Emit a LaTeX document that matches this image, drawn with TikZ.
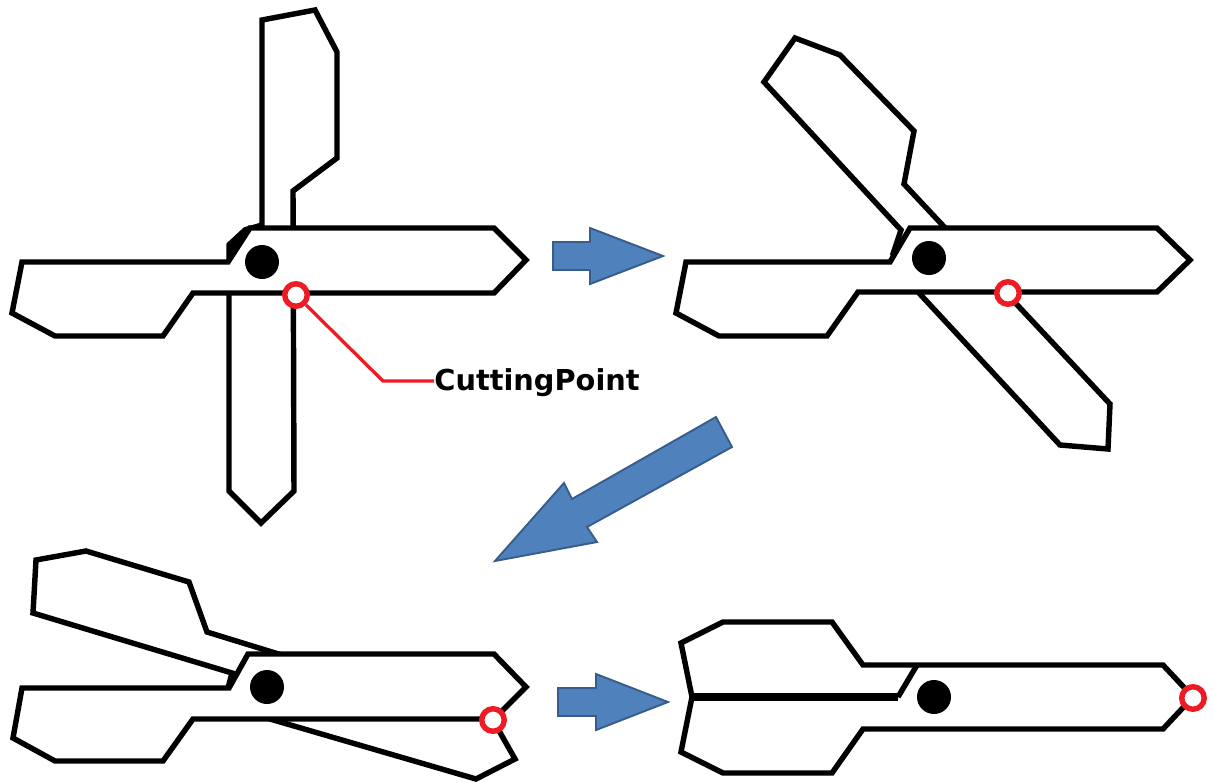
\documentclass[tikz,border=0pt]{standalone}
\usepackage{fontspec}
\setmainfont{DejaVu Sans}
\usetikzlibrary{positioning}

\begin{document}
\begin{tikzpicture}[
    x=0.02cm, y=-0.02cm,
    % --- styles ---
    blade/.style={
            draw=black,
            fill=white,
            line width=3.1pt,
            line join=miter
        },
    pivot/.style={
            circle,
            fill=black,
            minimum size=0.68cm,
            inner sep=0pt
        },
    cutpoint/.style={
            circle,
            draw=cutred,
            fill=white,
            line width=3.1pt,
            minimum size=0.45cm,
            inner sep=0pt
        },
    callout/.style={
            draw=cutred,
            line width=1.9pt
        },
    step arrow/.style={
            draw=arrowedge,
            fill=arrowblue,
            line width=1.1pt,
            line join=miter
        },
    lbl/.style={
            font=\bfseries\fontsize{16.4pt}{19pt}\selectfont,
            inner sep=0pt,
            anchor=west
        }
    ]
    \definecolor{arrowblue}{HTML}{4F81BD}
    \definecolor{arrowedge}{HTML}{385D8A}
    \definecolor{cutred}{HTML}{ED1C24}
    \useasboundingbox (0,0) rectangle (1214,782);

    % --- scissors, wide open ---
    \draw[blade] (229,491) -- (229,245) -- (245,230) -- (262,225) -- (262,20) -- (315,10) -- (337,52)
        -- (337,158) -- (293,191) -- (294,491) -- (261,523) -- cycle;
    \fill (228,262) -- (227,243) -- (245,227) -- (262,224) -- (262,228) -- (250,228) -- cycle;
    \draw[blade] (228,262) -- (22,262) -- (12,313) -- (55,336) -- (163,336) -- (193,293)
        -- (494,293) -- (526,260) -- (494,228) -- (250,228) -- cycle;
    \node[pivot] (pivotA) at (262,262) {};
    \node[cutpoint] (cutA) at (296,295) {};
    \coordinate (bendA) at (383,381);
    \node[lbl] (cutlabel) at (434,383) {CuttingPoint};
    \draw[callout] (cutA) -- (bendA) -- (bendA -| cutlabel.west);

    % --- scissors, half open ---
    \draw[blade] (764,82) -- (901,230) -- (893,254) -- (919,293) -- (1060,445) -- (1108,449) -- (1110,404)
        -- (904,184) -- (914,131) -- (840,55) -- (795,38) -- cycle;
    \draw[blade] (890,262) -- (686,262) -- (676,313) -- (719,336) -- (827,336) -- (858,292)
        -- (1157,292) -- (1190,260) -- (1157,228) -- (910,228) -- cycle;
    \node[pivot] (pivotB) at (929,258) {};
    \node[cutpoint] (cutB) at (1008,293) {};

    % --- scissors, nearly closed ---
    \draw[blade] (36,560) -- (33,613) -- (232,673) -- (228,688) -- (270,719) -- (476,779) -- (515,759)
        -- (493,720) -- (207,632) -- (189,582) -- (86,551) -- cycle;
    \draw[blade] (229,688) -- (22,688) -- (13,738) -- (55,761) -- (163,761) -- (193,719)
        -- (494,719) -- (526,687) -- (494,654) -- (248,654) -- cycle;
    \node[pivot] (pivotC) at (267,687) {};
    \node[cutpoint] (cutC) at (493,720) {};

    % --- scissors, closed ---
    \draw[blade] (898,697) -- (692,697) -- (681,643) -- (723,622) -- (832,622) -- (863,665)
        -- (1163,665) -- (1193,697) -- (1163,729) -- (863,729) -- (832,773) -- (723,773)
        -- (681,752) -- (692,697);
    \draw[blade, line width=4pt] (692,697) -- (898,697);
    \draw[blade] (898,697) -- (917,665);
    \node[pivot] (pivotD) at (934,697) {};
    \node[cutpoint] (cutD) at (1193,698) {};

    % --- arrows between the steps ---
    \draw[step arrow] (553,242) -- (590,242) -- (590,228) -- (663,256) -- (590,284) -- (590,270) -- (553,270) -- cycle;
    \draw[step arrow] (558,688) -- (596,688) -- (596,674) -- (668,702) -- (596,730) -- (596,716) -- (558,716) -- cycle;
    \draw[step arrow] (716,417) -- (732,447) -- (587,527) -- (597,542) -- (495,561) -- (564,483) -- (572,499) -- cycle;

\end{tikzpicture}
\end{document}
